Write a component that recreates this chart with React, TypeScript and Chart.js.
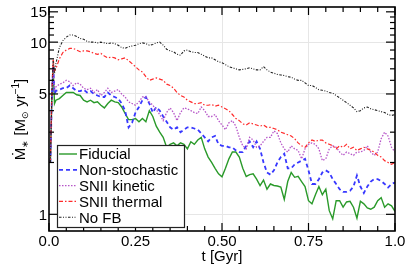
import { useEffect, useRef } from 'react';
import { Chart, registerables } from 'chart.js';
Chart.register(...registerables);

const FONT = "'Liberation Sans', Arial, Helvetica, sans-serif";

const times = [
  0.004, 0.008, 0.012, 0.016,
  0.02, 0.03, 0.04, 0.05, 0.06, 0.07, 0.08, 0.09, 0.10,
  0.11, 0.12, 0.13, 0.14, 0.15, 0.16, 0.17, 0.18, 0.19, 0.20,
  0.21, 0.22, 0.23, 0.24, 0.25, 0.26, 0.27, 0.28, 0.29, 0.30,
  0.31, 0.32, 0.33, 0.34, 0.35, 0.36, 0.37, 0.38, 0.39, 0.40,
  0.41, 0.42, 0.43, 0.44, 0.45, 0.46, 0.47, 0.48, 0.49, 0.50,
  0.51, 0.52, 0.53, 0.54, 0.55, 0.56, 0.57, 0.58, 0.59, 0.60,
  0.61, 0.62, 0.63, 0.64, 0.65, 0.66, 0.67, 0.68, 0.69, 0.70,
  0.71, 0.72, 0.73, 0.74, 0.75, 0.76, 0.77, 0.78, 0.79, 0.80,
  0.81, 0.82, 0.83, 0.84, 0.85, 0.86, 0.87, 0.88, 0.89, 0.90,
  0.91, 0.92, 0.93, 0.94, 0.95, 0.96, 0.97, 0.98, 0.99, 1.00,
];

const fiducial = [
  2.0, 4.5, 7.0, 4.4,
  4.6, 4.7, 4.9, 5.1, 5.1, 5.1, 4.95, 4.9, 4.6,
  4.5, 4.6, 4.45, 4.5, 4.3, 4.15, 4.4, 4.6, 4.5, 4.45,
  4.2, 3.85, 3.55, 3.55, 3.6, 3.45, 3.6, 3.45, 4.0, 3.7,
  3.25, 3.0, 2.8, 2.45, 2.55, 2.6, 2.5, 2.6, 2.55, 2.4,
  2.64, 2.55, 2.7, 2.8, 2.4, 2.15, 2.0, 1.85, 1.72, 1.65,
  1.85, 2.1, 2.3, 2.3, 2.15, 1.85, 1.66, 1.7, 1.72, 1.6,
  1.47, 1.58, 1.4, 1.5, 1.47, 1.46, 1.44, 1.22, 1.55, 1.75,
  1.64, 1.66, 1.55, 1.45, 1.2, 1.15, 1.3, 1.45, 1.3, 1.4,
  1.05, 0.94, 1.2, 1.2, 1.1, 1.18, 1.19, 1.1, 0.95, 1.19,
  1.15, 1.09, 1.07, 1.1, 1.2, 1.25, 1.1, 1.15, 1.12, 1.04,
];

const nonStochastic = [
  2.0, 4.6, 7.3, 5.0,
  5.2, 5.3, 5.4, 5.4, 5.6, 5.4, 5.2, 5.2, 5.3,
  5.1, 5.2, 5.0, 4.9, 4.8, 4.8, 5.1, 4.9, 4.8, 4.7,
  4.4, 4.0, 3.2, 3.4, 3.9, 4.2, 4.6, 4.8, 4.4, 3.9,
  4.2, 4.0, 3.7, 3.45, 3.2, 3.1, 3.2, 3.0, 3.1, 3.2,
  3.2, 3.15, 3.1, 2.95, 2.8, 2.65, 2.8, 2.85, 2.55, 2.5,
  2.5, 2.45, 2.45, 2.35, 2.3, 2.3, 2.5, 2.65, 2.45, 2.65,
  2.4, 2.0, 1.75, 1.7, 1.8, 2.0, 2.15, 2.25, 1.85, 1.85,
  1.95, 2.0, 2.05, 2.1, 1.8, 1.5, 1.5, 1.6, 1.75, 1.8,
  1.75, 1.6, 1.5, 1.4, 1.35, 1.35, 1.37, 1.45, 1.68, 1.45,
  1.33, 1.45, 1.55, 1.6, 1.6, 1.56, 1.5, 1.43, 1.5, 1.53,
];

const sniiKinetic = [
  2.0, 4.5, 7.0, 5.3,
  5.5, 5.7, 5.8, 6.0, 5.9, 5.6, 5.8, 5.7, 5.4,
  5.3, 5.4, 5.1, 5.3, 4.9, 5.1, 5.4, 5.1, 5.2, 5.3,
  5.0, 4.8, 4.5, 4.4, 4.3, 4.5, 4.8, 4.8, 4.5, 4.3,
  4.05, 3.8, 3.5, 3.9, 4.15, 3.9, 3.5, 3.9, 4.15, 4.1,
  4.0, 3.9, 3.85, 4.2, 4.0, 3.7, 3.7, 3.8, 3.5, 3.3,
  3.1, 3.4, 3.5, 3.25, 2.8, 2.5, 2.4, 2.8, 2.7, 2.45,
  2.5, 2.65, 2.8, 2.8, 3.05, 2.95, 2.6, 2.4, 2.3, 2.5,
  2.4, 2.35, 2.1, 2.4, 2.55, 2.6, 2.55, 2.4, 2.05, 2.1,
  2.4, 2.5, 2.45, 2.3, 2.2, 2.3, 2.25, 2.2, 2.3, 2.3,
  2.35, 2.5, 2.3, 2.2, 2.3, 2.75, 3.0, 2.85, 2.45, 2.3,
];

const sniiThermal = [
  2.0, 4.8, 8.0, 6.8,
  7.0, 8.0, 8.7, 9.0, 9.2, 9.2, 9.0, 8.8, 8.9,
  8.9, 8.8, 8.6, 8.5, 8.6, 8.3, 8.1, 8.2, 8.1, 7.9,
  8.0, 8.1, 7.8, 7.5, 7.2, 6.9, 6.7, 6.3, 6.0, 6.1,
  6.2, 6.1, 6.0, 5.7, 5.6, 5.4, 5.1, 4.9, 4.8, 4.6,
  4.5, 4.4, 4.4, 4.45, 4.3, 4.3, 4.35, 4.25, 4.3, 4.2,
  4.1, 4.0, 3.8, 3.6, 3.5, 3.35, 3.3, 3.4, 3.35, 3.3,
  3.25, 3.3, 3.2, 3.2, 3.15, 3.1, 3.0, 2.95, 2.9, 2.85,
  2.75, 2.6, 2.5, 2.45, 2.6, 2.7, 2.65, 2.7, 2.7, 2.6,
  2.55, 2.5, 2.4, 2.5, 2.45, 2.55, 2.4, 2.45, 2.35, 2.4,
  2.45, 2.4, 2.35, 2.3, 2.2, 2.15, 2.05, 2.0, 1.95, 2.0,
];

const noFB = [
  2.0, 4.7, 7.8, 6.6,
  7.5, 9.3, 10.2, 10.7, 11.0, 11.0, 10.8, 10.5, 10.4,
  10.1, 10.0, 10.0, 9.9, 10.0, 9.9, 9.8, 9.9, 9.8, 9.6,
  9.3, 9.2, 9.4, 9.5, 9.6, 9.8, 9.9, 9.8, 9.6, 9.7,
  9.9, 10.0, 9.6, 9.1, 8.9, 8.8, 8.5, 8.4, 8.9, 9.0,
  8.8, 8.7, 8.7, 8.5, 8.3, 8.1, 8.1, 7.9, 7.7, 7.6,
  7.4, 7.2, 7.1, 7.0, 6.9, 6.95, 7.0, 7.1, 7.0, 6.9,
  6.9, 7.2, 6.9, 6.7, 6.6, 6.5, 6.45, 6.4, 6.3, 6.25,
  6.1, 6.0, 6.0, 5.8, 5.6, 5.6, 5.45, 5.3, 5.25, 5.2,
  5.1, 5.05, 4.9, 4.75, 4.6, 4.45, 4.3, 4.15, 3.95, 4.0,
  4.15, 4.2, 4.1, 4.05, 4.0, 3.95, 3.9, 3.8, 3.75, 3.8,
];

const seriesLabels = ['Fiducial', 'Non-stochastic', 'SNII kinetic', 'SNII thermal', 'No FB'];
const seriesValues = [fiducial, nonStochastic, sniiKinetic, sniiThermal, noFB];
const seriesColors = ['#2a9a2a', '#3838ff', '#b655c8', '#ff2a2a', '#222222'];
const seriesWidths = [1.4, 1.8, 1.3, 1.2, 1.1];
const seriesDashes = [[], [4, 3], [1.5, 1.5], [4, 2, 1.5, 2], [2.5, 1.5, 1, 1.5, 1, 1.5]];

const xMajorTicks = [0, 0.25, 0.5, 0.75, 1.0];
const xTickLabels = ['0.0', '0.25', '0.50', '0.75', '1.0'];
const xMinorTicks = [0.05, 0.1, 0.15, 0.2, 0.3, 0.35, 0.4, 0.45, 0.55, 0.6, 0.65, 0.7, 0.8, 0.85, 0.9, 0.95];
const yMajorTicks = [1, 5, 10, 15];
const yTickLabels = ['1', '5', '10', '15'];
const yMinorTicks = [2, 3, 4, 6, 7, 8, 9, 11, 12, 13, 14];
const xGridValues = [0.25, 0.5, 0.75];
const yGridValues = [1, 5, 10];

const framePlugin = {
  id: 'framePlugin',
  afterDraw(chart: any) {
    const ctx = chart.ctx as CanvasRenderingContext2D;
    const { left, right, top, bottom } = chart.chartArea;
    const xs = chart.scales.x;
    const ys = chart.scales.y;
    ctx.save();
    ctx.setLineDash([]);
    ctx.strokeStyle = '#000';
    ctx.lineWidth = 1.2;
    const line = (x1: number, y1: number, x2: number, y2: number) => {
      ctx.beginPath();
      ctx.moveTo(x1, y1);
      ctx.lineTo(x2, y2);
      ctx.stroke();
    };
    xMajorTicks.forEach((v) => {
      const p = xs.getPixelForValue(v);
      line(p, bottom, p, bottom - 8);
      line(p, top, p, top + 8);
    });
    xMinorTicks.forEach((v) => {
      const p = xs.getPixelForValue(v);
      line(p, bottom, p, bottom - 5);
      line(p, top, p, top + 5);
    });
    yMajorTicks.forEach((v) => {
      const p = ys.getPixelForValue(v);
      line(left, p, left + 9, p);
      line(right, p, right - 9, p);
    });
    yMinorTicks.forEach((v) => {
      const p = ys.getPixelForValue(v);
      line(left, p, left + 5, p);
      line(right, p, right - 5, p);
    });
    ctx.lineWidth = 1.6;
    ctx.strokeRect(left, top, right - left, bottom - top);

    // tick labels
    ctx.fillStyle = '#000';
    ctx.font = `15px ${FONT}`;
    ctx.textBaseline = 'alphabetic';
    ctx.textAlign = 'center';
    xMajorTicks.forEach((v, i) => {
      ctx.fillText(xTickLabels[i], xs.getPixelForValue(v), bottom + 14.5);
    });
    ctx.textAlign = 'right';
    yMajorTicks.forEach((v, i) => {
      ctx.fillText(yTickLabels[i], left - 2, ys.getPixelForValue(v) + 5.5);
    });

    // x title
    ctx.textAlign = 'center';
    ctx.fillText('t [Gyr]', (left + right) / 2, bottom + 30);

    // y title with sub/superscripts
    const parts = [
      { t: 'Ṁ', s: 15, dy: 0 },
      { t: '∗', s: 9, dy: 3 },
      { t: ' [M', s: 15, dy: 0 },
      { t: '⊙', s: 9, dy: 3 },
      { t: ' yr', s: 15, dy: 0 },
      { t: '−1', s: 10, dy: -6 },
      { t: ']', s: 15, dy: 0 },
    ];
    let total = 0;
    const widths = parts.map((p) => {
      ctx.font = `${p.s}px ${FONT}`;
      const w = ctx.measureText(p.t).width;
      total += w;
      return w;
    });
    const target = 85;
    const fx = total > target ? target / total : 1;
    ctx.save();
    ctx.translate(25, (top + bottom) / 2 + 0.5);
    ctx.rotate(-Math.PI / 2);
    ctx.scale(fx, 1);
    ctx.textAlign = 'left';
    let cx = -total / 2;
    parts.forEach((p, i) => {
      ctx.font = `${p.s}px ${FONT}`;
      ctx.fillText(p.t, cx, p.dy);
      cx += widths[i];
    });
    ctx.restore();

    // legend
    const lx = 57.5, ly = 145.5, lw = 127, lh = 82;
    ctx.fillStyle = '#fff';
    ctx.fillRect(lx, ly, lw, lh);
    ctx.strokeStyle = '#222';
    ctx.lineWidth = 1.2;
    ctx.strokeRect(lx, ly, lw, lh);
    ctx.font = `15px ${FONT}`;
    ctx.textAlign = 'left';
    chart.data.datasets.forEach((ds: any, i: number) => {
      const cy = 154 + i * 15.8;
      ctx.strokeStyle = ds.borderColor;
      ctx.lineWidth = ds.borderWidth;
      ctx.setLineDash(ds.borderDash || []);
      line(59, cy, 77, cy);
      ctx.setLineDash([]);
      ctx.fillStyle = '#000';
      ctx.fillText(ds.label, 79, cy + 5.4);
    });
    ctx.restore();
  },
};

export default function App() {
  const ref = useRef<HTMLCanvasElement>(null);
  useEffect(() => {
    if (!ref.current) return;
    const datasets = seriesLabels.map((label, i) => ({
      label,
      data: times.map((t, j) => ({ x: t, y: seriesValues[i][j] })),
      borderColor: seriesColors[i],
      backgroundColor: seriesColors[i],
      borderWidth: seriesWidths[i],
      borderDash: seriesDashes[i],
      pointRadius: 0,
      fill: false,
      tension: 0,
      order: 5 - i,
    }));
    const chart = new Chart(ref.current, {
      type: 'line',
      data: { datasets },
      options: {
        animation: false,
        responsive: false,
        maintainAspectRatio: false,
        devicePixelRatio: 1,
        parsing: false,
        layout: { padding: { top: 7, right: 21, left: 0, bottom: 0 } },
        plugins: {
          legend: { display: false },
          tooltip: { enabled: false },
          title: { display: false },
        },
        scales: {
          x: {
            type: 'linear',
            min: 0,
            max: 1,
            afterBuildTicks: (s: any) => {
              s.ticks = xMajorTicks.map((v) => ({ value: v }));
            },
            afterFit: (s: any) => {
              s.height = 43;
              s.paddingLeft = 0;
              s.paddingRight = 0;
            },
            ticks: { display: false },
            border: { display: false },
            grid: {
              drawTicks: false,
              lineWidth: 1,
              color: (c: any) =>
                c.tick && xGridValues.includes(c.tick.value) ? '#e6e6e6' : 'rgba(0,0,0,0)',
            },
          },
          y: {
            type: 'logarithmic',
            min: 0.8,
            max: 16,
            afterBuildTicks: (s: any) => {
              s.ticks = yMajorTicks.map((v) => ({ value: v }));
            },
            afterFit: (s: any) => {
              s.width = 49;
              s.paddingTop = 0;
              s.paddingBottom = 0;
            },
            ticks: { display: false },
            border: { display: false },
            grid: {
              drawTicks: false,
              lineWidth: 1,
              color: (c: any) =>
                c.tick && yGridValues.includes(c.tick.value) ? '#e6e6e6' : 'rgba(0,0,0,0)',
            },
          },
        },
      } as any,
      plugins: [framePlugin],
    });
    return () => chart.destroy();
  }, []);
  return (
    <div style={{ position: 'fixed', left: 0, top: 0, width: 416, height: 274, background: '#fff' }}>
      <canvas ref={ref} width={416} height={274} style={{ width: 416, height: 274, display: 'block' }} />
    </div>
  );
}
